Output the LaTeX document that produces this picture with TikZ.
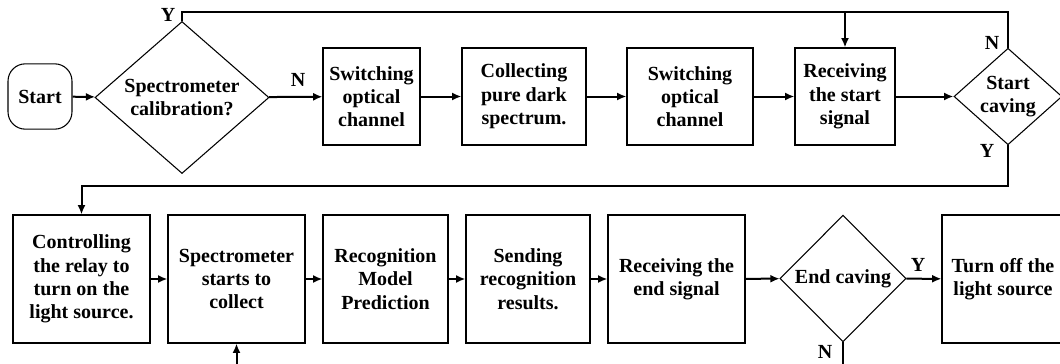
\documentclass[tikz,border=0pt]{standalone}
\usepackage{fontspec}
\setmainfont{Liberation Serif}
\usetikzlibrary{arrows.meta, shapes.geometric}
\begin{document}
\begin{tikzpicture}[x=0.75pt, y=-0.75pt,
  every node/.style={font=\bfseries\fontsize{15}{17.5}\selectfont, align=center},
  box/.style={draw, line width=0.8pt, inner sep=0pt},
  decide/.style={draw, diamond, line width=0.8pt, inner sep=0pt},
  flow/.style={line width=1.5pt, -{Latex[length=7pt,width=6pt]}},
  wire/.style={line width=1.5pt}]
\useasboundingbox (0,0) rectangle (1060,364);
% top row: start, calibration check, dark spectrum steps
\node[box, rounded corners=13pt, minimum width=48pt, minimum height=49pt] (start) at (40,96.5) {Start};
\node[decide, minimum width=130.5pt, minimum height=113pt] (cal) at (182,97.5) {Spectrometer\\calibration?};
\foreach \n/\x/\w/\t in {sw1/371.5/97/{Switching\\optical\\channel},
                         dark/524/124/{Collecting\\pure dark\\spectrum.},
                         sw2/690/126/{Switching\\optical\\channel},
                         rstart/845/100/{Receiving\\the start\\signal}}
  \node[box, minimum width=0.75*\w pt, minimum height=72.75pt] (\n) at (\x,96.5) {\t};
\node[decide, minimum width=81pt, minimum height=58pt] (scave) at (1008,96.5) {Start\\caving};
% bottom row: collecting and recognition
\foreach \n/\x/\w/\t in {relay/81.5/137/{Controlling\\the relay to\\turn on the\\light source.},
                         spec/236.5/137/{Spectrometer\\starts to\\collect},
                         model/385.5/125/{Recognition\\Model\\Prediction},
                         send/528/124/{Sending\\recognition\\results.},
                         rend/676.5/137/{Receiving the\\end signal}}
  \node[box, minimum width=0.75*\w pt, minimum height=96pt] (\n) at (\x,279) {\t};
\node[decide, minimum width=94.5pt, minimum height=95pt] (ecave) at (843,278.5) {End caving};
\node[box, minimum width=91.5pt, minimum height=96pt] (off) at (1003,279) {Turn off the\\light source};
% straight arrows along each row
\foreach \a/\b in {start/cal, cal/sw1, sw1/dark, dark/sw2, sw2/rstart, rstart/scave,
                   relay/spec, spec/model, model/send, send/rend, rend/ecave, ecave/off}
  \draw[flow] (\a) -- (\b);
% loops
\coordinate (top) at (0,12);
\coordinate (mid) at (0,186);
\coordinate (bot) at (0,364);
\draw[wire] (cal.north) |- (top -| scave.north) -- (scave.north);
\draw[flow] (top -| rstart.north) -- (rstart.north);
\draw[flow] (scave.south) |- (mid -| relay.north) -- (relay.north);
\draw[wire] (ecave.south) -- (ecave.south |- bot);
\draw[flow] (spec.south |- bot) -- (spec.south);
% branch labels
\node (ycal) at (168,15) {Y};
\node (ncal) at (298,80) {N};
\node (nsc) at (992,43) {N};
\node (ysc) at (987,151) {Y};
\node (yec) at (918,265) {Y};
\node (nec) at (825,352) {N};
\end{tikzpicture}
\end{document}
